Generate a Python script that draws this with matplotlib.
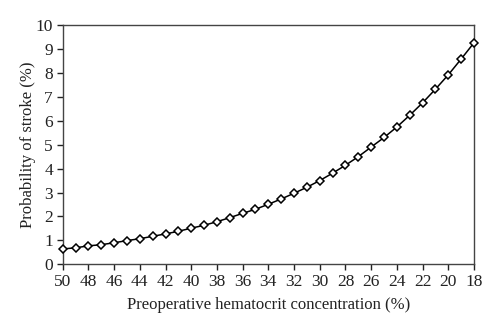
import numpy as np
import matplotlib
matplotlib.use("Agg")
import matplotlib.pyplot as plt

# Hematokrit değerleri (%) ve inme olasılığı (%)
hematokrit = np.arange(50, 17, -1)
olasilik = [0.64, 0.69, 0.77, 0.82, 0.90, 0.99, 1.07, 1.17, 1.27, 1.38,
            1.51, 1.63, 1.78, 1.95, 2.13, 2.30, 2.51, 2.73, 2.97, 3.22,
            3.50, 3.81, 4.14, 4.50, 4.90, 5.30, 5.74, 6.23, 6.75, 7.32,
            7.92, 8.58, 9.26]

x_ticks = list(range(50, 17, -2))
y_ticks = list(range(0, 11))

plt.rcParams['font.family'] = ['Liberation Serif', 'DejaVu Serif']

fig = plt.figure(figsize=(5, 3.34), dpi=100)
ax = fig.add_axes([0.1254, 0.2087, 0.8226, 0.7163])

ax.plot(hematokrit, olasilik, color='black', linewidth=1.1,
        marker='D', markersize=4.5, markerfacecolor='white',
        markeredgecolor='black', markeredgewidth=1.1, clip_on=False, zorder=3)

ax.set_xlim(50, 18)
ax.set_ylim(0, 10)
ax.set_xticks(x_ticks)
ax.set_yticks(y_ticks)
ax.tick_params(direction='out', length=4, width=1, labelsize=12.5,
               colors='#222222', pad=3)
for s in ax.spines.values():
    s.set_linewidth(1)
    s.set_color('#444444')

ax.set_xlabel('Preoperative hematocrit concentration (%)', fontsize=12,
              labelpad=5, color='#222222')
ax.set_ylabel('Probability of stroke (%)', fontsize=12, labelpad=0,
              color='#222222')

fig.savefig('out.png', dpi=100)
